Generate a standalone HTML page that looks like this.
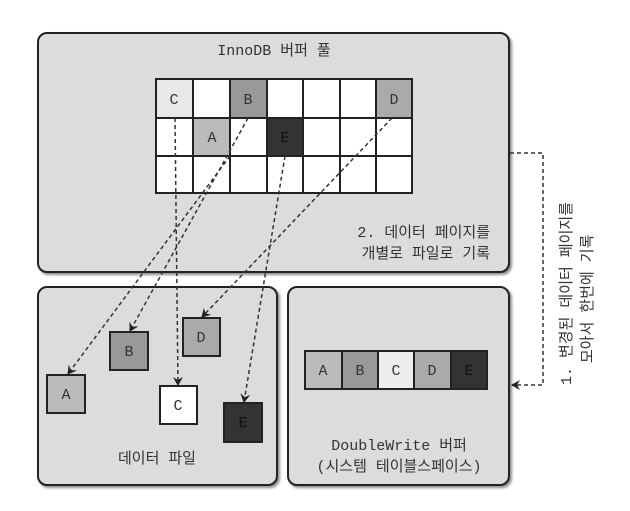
<!DOCTYPE html>
<html><head><meta charset="utf-8"><style>
html,body{margin:0;padding:0;background:#fff;}
svg{display:block;}
text{font-family:"Liberation Mono","Noto Sans CJK KR",monospace;font-size:15px;fill:#333;}
</style></head><body>
<svg width="630" height="511" viewBox="0 0 630 511" xmlns="http://www.w3.org/2000/svg">
<defs>
<marker id="ah" markerWidth="10" markerHeight="10" refX="8" refY="5" orient="auto" markerUnits="userSpaceOnUse">
<path d="M0,0 L9,5 L0,10 L3,5 Z" fill="#222"/></marker>
<filter id="sh" x="-5%" y="-5%" width="110%" height="110%"><feDropShadow dx="2" dy="2" stdDeviation="1.2" flood-color="#000" flood-opacity="0.45"/></filter>
</defs>
<rect x="38" y="33" width="471" height="239" rx="9" fill="#dcdcdc" stroke="#222" stroke-width="2" filter="url(#sh)"/>
<rect x="38" y="287" width="239" height="198" rx="9" fill="#dcdcdc" stroke="#222" stroke-width="2" filter="url(#sh)"/>
<rect x="288" y="287" width="221" height="198" rx="9" fill="#dcdcdc" stroke="#222" stroke-width="2" filter="url(#sh)"/>
<text x="274" y="55" text-anchor="middle">InnoDB 버퍼 풀</text>
<g stroke="#222" stroke-width="2">
<rect x="156" y="79" width="256" height="114" fill="#fff"/>
<rect x="156" y="79" width="37" height="39" fill="#e8e8e8"/>
<rect x="230" y="79" width="37" height="39" fill="#999"/>
<rect x="376" y="79" width="36" height="39" fill="#aaa"/>
<rect x="193" y="118" width="37" height="38" fill="#bbb"/>
<rect x="267" y="118" width="36" height="38" fill="#333"/>
<line x1="193" y1="79" x2="193" y2="193"/><line x1="230" y1="79" x2="230" y2="193"/>
<line x1="267" y1="79" x2="267" y2="193"/><line x1="303" y1="79" x2="303" y2="193"/>
<line x1="340" y1="79" x2="340" y2="193"/><line x1="376" y1="79" x2="376" y2="193"/>
<line x1="156" y1="118" x2="412" y2="118"/><line x1="156" y1="156" x2="412" y2="156"/>
</g>
<g text-anchor="middle">
<text x="174" y="104">C</text><text x="248" y="104">B</text><text x="394" y="104">D</text>
<text x="212" y="142">A</text><text x="285" y="142" style="fill:#111">E</text>
</g>
<text x="490" y="237" text-anchor="end">2. 데이터 페이지를</text>
<text x="490" y="258" text-anchor="end">개별로 파일로 기록</text>
<g stroke="#222" stroke-width="2">
<rect x="47" y="375" width="38" height="38" fill="#bbb"/>
<rect x="110" y="332" width="38" height="38" fill="#999"/>
<rect x="183" y="318" width="37" height="38" fill="#aaa"/>
<rect x="160" y="386" width="37" height="38" fill="#fff"/>
<rect x="224" y="403" width="38" height="39" fill="#333"/>
</g>
<g text-anchor="middle">
<text x="66" y="399">A</text><text x="129" y="356">B</text><text x="201" y="342">D</text>
<text x="178" y="410">C</text><text x="243" y="427" style="fill:#111">E</text>
</g>
<text x="157" y="463" text-anchor="middle">데이터 파일</text>
<g stroke="#333" stroke-width="1.5" stroke-dasharray="4,3" fill="none" marker-end="url(#ah)">
<line x1="175" y1="118" x2="178" y2="385"/>
<line x1="248" y1="118" x2="130" y2="331"/>
<line x1="230" y1="156" x2="68" y2="374"/>
<line x1="285" y1="156" x2="244" y2="402"/>
<line x1="392" y1="118" x2="202" y2="317"/>
</g>
<g stroke="#222" stroke-width="2">
<rect x="305" y="351" width="37" height="38" fill="#bbb"/>
<rect x="342" y="351" width="36" height="38" fill="#999"/>
<rect x="378" y="351" width="36" height="38" fill="#eee"/>
<rect x="414" y="351" width="37" height="38" fill="#aaa"/>
<rect x="451" y="351" width="36" height="38" fill="#333"/>
</g>
<g text-anchor="middle">
<text x="323" y="375">A</text><text x="360" y="375">B</text><text x="396" y="375">C</text>
<text x="432" y="375">D</text><text x="469" y="375" style="fill:#111">E</text>
</g>
<text x="399" y="450" text-anchor="middle">DoubleWrite 버퍼</text>
<text x="399" y="471" text-anchor="middle">(시스템 테이블스페이스)</text>
<polyline points="510,153 543,153 543,385 512,385" fill="none" stroke="#333" stroke-width="1.5" stroke-dasharray="4,3" marker-end="url(#ah)"/>
<g transform="translate(571,385) rotate(-90)">
<text x="0" y="0">1. 변경된 데이터 페이지를</text>
<text x="22" y="21">모아서 한번에 기록</text>
</g>
</svg>
</body></html>
